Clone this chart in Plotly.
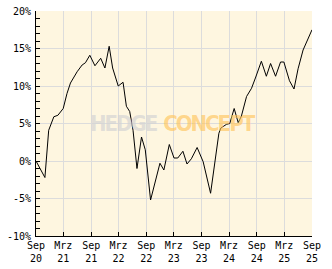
import plotly.graph_objects as go

dates = [
    "2020-09-01", "2020-10-30", "2020-11-24", "2020-12-28", "2021-01-24", "2021-02-28",
    "2021-03-25", "2021-04-17", "2021-05-31", "2021-07-03", "2021-07-25", "2021-08-23",
    "2021-09-26", "2021-11-03", "2021-12-01", "2021-12-29", "2022-01-21", "2022-02-27",
    "2022-03-31", "2022-04-22", "2022-05-14", "2022-06-05", "2022-07-01", "2022-07-31",
    "2022-08-25", "2022-09-29", "2022-11-30", "2022-12-26", "2023-01-31", "2023-03-03",
    "2023-03-28", "2023-05-01", "2023-05-28", "2023-06-26", "2023-08-03", "2023-09-12",
    "2023-10-31", "2023-11-28", "2023-12-25", "2024-01-07", "2024-02-14", "2024-03-06",
    "2024-04-04", "2024-05-01", "2024-05-22", "2024-06-25", "2024-07-28", "2024-08-25",
    "2024-10-01", "2024-11-03", "2024-12-01", "2025-01-03", "2025-02-05", "2025-02-27",
    "2025-04-05", "2025-05-05", "2025-06-01", "2025-07-04", "2025-08-01", "2025-09-01",
]
values = [
    0.0, -2.2, 4.1, 5.9, 6.1, 7.0,
    9.0, 10.4, 11.9, 12.8, 13.1, 14.1,
    12.7, 13.7, 12.4, 15.3, 12.4, 10.0,
    10.5, 7.3, 6.6, 4.1, -1.0, 3.2,
    1.5, -5.2, -0.3, -1.2, 2.2, 0.4,
    0.4, 1.3, -0.4, 0.3, 1.8, -0.1,
    -4.3, 0.1, 3.7, 4.4, 4.9, 5.0,
    7.0, 5.1, 6.0, 8.6, 9.7, 11.2,
    13.3, 11.3, 13.0, 11.3, 13.2, 13.2,
    10.7, 9.6, 12.3, 14.8, 16.2, 17.5,
]

x_tick_vals = ["2020-09-01", "2021-03-01", "2021-09-01", "2022-03-01", "2022-09-01",
               "2023-03-01", "2023-09-01", "2024-03-01", "2024-09-01", "2025-03-01",
               "2025-09-01"]
x_tick_text = ["Sep<br>20", "Mrz<br>21", "Sep<br>21", "Mrz<br>22", "Sep<br>22",
               "Mrz<br>23", "Sep<br>23", "Mrz<br>24", "Sep<br>24", "Mrz<br>25",
               "Sep<br>25"]
y_tick_vals = [-10, -5, 0, 5, 10, 15, 20]
y_tick_text = ["-10%", "-5%", "0%", "5%", "10%", "15%", "20%"]

font = dict(family="DejaVu Sans Mono", size=10, color="black")

fig = go.Figure()
fig.add_trace(go.Scatter(x=dates, y=values, mode="lines",
                         line=dict(color="black", width=1), hoverinfo="skip"))

fig.update_layout(
    width=332, height=269,
    margin=dict(l=36, r=20, t=11, b=33),
    paper_bgcolor="white",
    plot_bgcolor="#FEF6E0",
    showlegend=False,
    font=font,
)
fig.update_xaxes(
    range=["2020-09-01", "2025-09-01"],
    tickvals=x_tick_vals, ticktext=x_tick_text,
    showgrid=True, gridcolor="#DCDCDC", gridwidth=1,
    ticks="inside", ticklen=4, tickcolor="black",
    showline=True, linecolor="black", linewidth=1,
    mirror=False, zeroline=False, tickfont=font, automargin=False,
)
fig.update_yaxes(
    range=[-10, 20],
    tickvals=y_tick_vals, ticktext=y_tick_text,
    showgrid=True, gridcolor="#DCDCDC", gridwidth=1,
    ticks="inside", ticklen=4, tickcolor="black",
    minor=dict(tickmode="linear", tick0=0, dtick=1, ticks="inside", ticklen=4,
               tickcolor="black", showgrid=False),
    showline=True, linecolor="black", linewidth=1,
    zeroline=False, tickfont=font, ticklabelstandoff=2, automargin=False,
)
fig.add_annotation(
    xref="paper", yref="paper", x=0.496, y=0.50, showarrow=False,
    text="<b><span style='color:rgba(212,212,212,0.7);font-stretch:condensed;letter-spacing:-2px'>HEDGE</span> "
         "<span style='color:rgba(255,196,90,0.65);font-stretch:condensed;letter-spacing:-2px'>CONCEPT</span></b>",
    font=dict(family="DejaVu Sans Condensed, Liberation Sans Narrow", size=22),
)
fig.write_html("out.html")
